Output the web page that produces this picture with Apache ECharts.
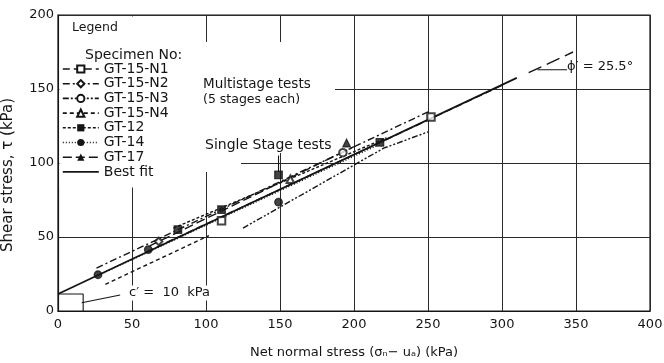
<!DOCTYPE html>
<html>
<head>
<meta charset="utf-8">
<script src="https://cdn.jsdelivr.net/npm/echarts@6/dist/echarts.min.js"></script>
<style>
  html, body { margin: 0; padding: 0; background: #fff; }
  #chart { width: 664px; height: 363px; }
</style>
</head>
<body>
<div id="chart"></div>
<script>
// [net normal stress, shear stress] in kPa
const bestFit = [[0, 11.5], [310, 157.5]]
const bestFitExt = [[318, 161], [348, 175]]
const lineN1 = [[60, 40], [300, 152.5]]
const lineN2 = [[26, 29], [250, 134.5]]
const lineN3 = [[125, 56], [220, 110], [250, 121]]
const lineN4 = [[32, 18], [102, 51]]
const lineGT12 = [[78, 56], [222, 117]]
const lineGT14 = [[27, 24], [216, 112]]
const lineGT17 = [[62, 44], [200, 111]]

const ptsN1 = [[110.5, 61], [252, 131]]
const ptsN2 = [[68, 47]]
const ptsN3 = [[192.5, 107]]
const ptsN4 = [[157, 89]]
const ptsGT12 = [[81, 55], [110.5, 68.5], [149, 92], [217.5, 114]]
const ptsGT14 = [[27, 24.5], [61, 41.5], [149, 73.5]]
const ptsGT17 = [[195, 113.5]]

// leader lines of the notes
const cBracket = [[0, 11.5], [17, 11.5], [17, 0]]
const cLeader = [[16, 5.6], [42, 10.8]]
const phiBase = [[324, 163], [344, 163]]
const singlePointer = [[149, 105], [149, 94]]

const legendNames = ['GT-15-N1', 'GT-15-N2', 'GT-15-N3', 'GT-15-N4', 'GT-12', 'GT-14', 'GT-17', 'Best fit']

const ink = '#151515'
const font = "'DejaVu Sans', sans-serif"

const fitLine = (name, data, dash, symbol, width) => ({
  name,
  type: 'line',
  data,
  symbol,
  symbolSize: 7,
  showSymbol: false,
  silent: true,
  z: 3,
  lineStyle: { color: ink, width: width || 1.4, type: dash },
  itemStyle: { color: ink }
})

const points = (name, data, symbol) => ({
  name,
  type: 'scatter',
  data,
  symbol,
  symbolSize: 7.5,
  z: 4,
  itemStyle: { color: ink, borderColor: ink, borderWidth: 1.3 }
})

const note = (name, data) => ({
  name,
  type: 'line',
  data,
  symbol: 'none',
  silent: true,
  z: 3,
  lineStyle: { color: ink, width: 1.1 }
})

const text = (x, y, str, size, extra) => ({
  type: 'text',
  x,
  y,
  z: 10,
  style: Object.assign({
    text: str,
    fontFamily: font,
    fontSize: size,
    fill: ink,
    verticalAlign: 'middle'
  }, extra || {})
})

const blank = (x, y, w, h) => ({
  type: 'rect',
  z: 1,
  shape: { x, y, width: w, height: h },
  style: { fill: '#fff' },
  silent: true
})

const chart = echarts.init(document.getElementById('chart'))

chart.setOption({
  animation: false,
  backgroundColor: '#fff',
  grid: {
    left: 58,
    right: 14,
    top: 15,
    bottom: 52,
    show: true,
    borderColor: ink,
    borderWidth: 1.2,
    outerBoundsMode: 'none'
  },
  legend: {
    orient: 'vertical',
    left: 62,
    top: 62,
    padding: 0,
    itemWidth: 36,
    itemHeight: 9,
    itemGap: 0.7,
    textStyle: { fontFamily: font, fontSize: 14, color: ink, lineHeight: 14 },
    lineStyle: { width: 1.6 },
    data: legendNames.map(n => n === 'Best fit' ? { name: n, itemStyle: { opacity: 0 } } : n)
  },
  xAxis: {
    type: 'value',
    min: 0,
    max: 400,
    interval: 50,
    name: 'Net normal stress (σₙ− uₐ) (kPa)',
    nameLocation: 'middle',
    nameGap: 35,
    nameTextStyle: { fontFamily: font, fontSize: 13, color: ink },
    axisLine: { show: true, lineStyle: { color: ink, width: 1.2 } },
    axisTick: { show: false },
    axisLabel: { fontFamily: font, fontSize: 13, color: ink, margin: 7 },
    splitLine: { show: true, lineStyle: { color: '#2a2a2a', width: 1 } }
  },
  yAxis: {
    type: 'value',
    min: 0,
    max: 200,
    interval: 50,
    name: 'Shear stress, τ (kPa)',
    nameLocation: 'middle',
    nameGap: 42,
    nameTextStyle: { fontFamily: font, fontSize: 15, color: ink, padding: [0, 24, 0, 0] },
    axisLine: { show: true, lineStyle: { color: ink, width: 1.2 } },
    axisTick: { show: false },
    axisLabel: { fontFamily: font, fontSize: 13, color: ink, margin: 4 },
    splitLine: { show: true, lineStyle: { color: '#2a2a2a', width: 1 } }
  },
  graphic: [
    blank(59.5, 16.5, 137, 171),
    blank(195, 42, 46, 130),
    blank(240, 42, 95, 111),
    text(72, 28, 'Legend', 12.5),
    text(85, 55, 'Specimen No:', 14),
    text(203, 84, 'Multistage tests', 13.5),
    text(203, 100, '(5 stages each)', 12.5),
    text(205, 145, 'Single Stage tests', 14),
    text(567, 67, 'ϕ′ = 25.5°', 13),
    text(127, 293, 'c′ =  10  kPa', 13, { backgroundColor: '#fff', padding: [1, 2] })
  ],
  series: [
    fitLine('GT-15-N1', lineN1, [7, 4], 'emptyRect'),
    fitLine('GT-15-N2', lineN2, [7, 3, 2, 3], 'emptyDiamond'),
    fitLine('GT-15-N3', lineN3, [6, 2, 2, 2, 2, 2], 'emptyCircle'),
    fitLine('GT-15-N4', lineN4, [4, 3], 'emptyTriangle'),
    fitLine('GT-12', lineGT12, [3, 2], 'rect'),
    fitLine('GT-14', lineGT14, [1, 2], 'circle'),
    fitLine('GT-17', lineGT17, [9, 4], 'triangle'),
    fitLine('Best fit', bestFit, 'solid', 'none', 1.8),
    fitLine('Best fit ext', bestFitExt, [14, 6], 'none', 1.4),
    points('GT-15-N1', ptsN1, 'emptyRect'),
    points('GT-15-N2', ptsN2, 'emptyDiamond'),
    points('GT-15-N3', ptsN3, 'emptyCircle'),
    points('GT-15-N4', ptsN4, 'emptyTriangle'),
    points('GT-12', ptsGT12, 'rect'),
    points('GT-14', ptsGT14, 'circle'),
    points('GT-17', ptsGT17, 'triangle'),
    note('c bracket', cBracket),
    note('c leader', cLeader),
    note('phi base', phiBase),
    note('single pointer', singlePointer)
  ]
})
</script>
</body>
</html>
